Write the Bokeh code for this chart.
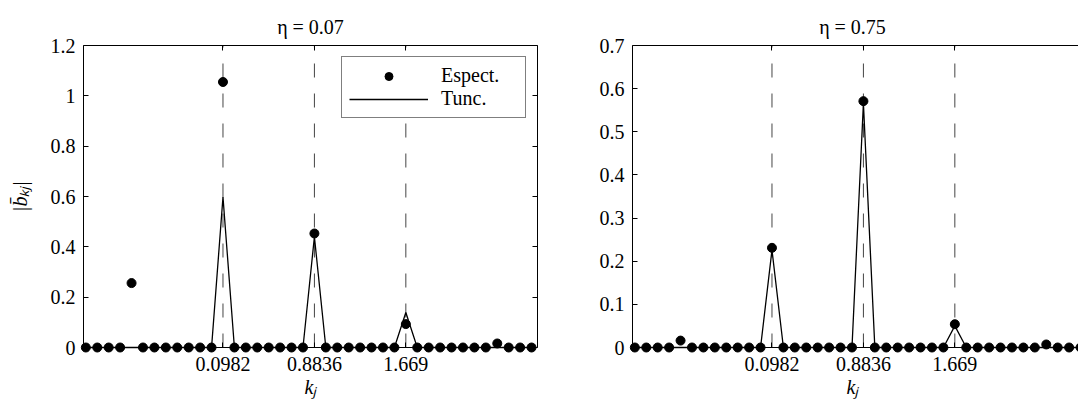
from bokeh.plotting import figure
from bokeh.models import (Range1d, LinearAxis, FixedTicker, PrintfTickFormatter,
                          Legend, LegendItem)
from bokeh.layouts import row
from bokeh.embed import file_html
from bokeh.resources import INLINE

# Wavenumbers k_j (step pi/32)
k_values = [
    -1.0799, -0.9817, -0.8836, -0.7854, -0.6872, -0.5890, -0.4909, -0.3927, -0.2945, -0.1963,
    -0.0982, 0.0000, 0.0982, 0.1963, 0.2945, 0.3927, 0.4909, 0.5890, 0.6872, 0.7854,
    0.8836, 0.9817, 1.0799, 1.1781, 1.2763, 1.3744, 1.4726, 1.5708, 1.6690, 1.7671,
    1.8653, 1.9635, 2.0617, 2.1598, 2.2580, 2.3562, 2.4544, 2.5525, 2.6507, 2.7489,
]

# eta = 0.07
espect_eta007 = [
    0, 0, 0, 0, 0.256, 0, 0, 0, 0, 0,
    0, 0, 1.055, 0, 0, 0, 0, 0, 0, 0,
    0.453, 0, 0, 0, 0, 0, 0, 0, 0.093, 0,
    0, 0, 0, 0, 0, 0, 0.016, 0, 0, 0,
]
tunc_eta007 = [
    0, 0, 0, 0, 0, 0, 0, 0, 0, 0,
    0, 0, 0.598, 0, 0, 0, 0, 0, 0, 0,
    0.440, 0, 0, 0, 0, 0, 0, 0, 0.139, 0,
    0, 0, 0, 0, 0, 0, 0, 0, 0, 0,
]

# eta = 0.75
espect_eta075 = [
    0, 0, 0, 0, 0.016, 0, 0, 0, 0, 0,
    0, 0, 0.231, 0, 0, 0, 0, 0, 0, 0,
    0.571, 0, 0, 0, 0, 0, 0, 0, 0.054, 0,
    0, 0, 0, 0, 0, 0, 0.007, 0, 0, 0,
]
tunc_eta075 = [
    0, 0, 0, 0, 0, 0, 0, 0, 0, 0,
    0, 0, 0.226, 0, 0, 0, 0, 0, 0, 0,
    0.566, 0, 0, 0, 0, 0, 0, 0, 0.050, 0,
    0, 0, 0, 0, 0, 0, 0, 0, 0, 0,
]

k_ticks = [0.0982, 0.8836, 1.669]
y_ticks_007 = [0, 0.2, 0.4, 0.6, 0.8, 1, 1.2]
y_ticks_075 = [0, 0.1, 0.2, 0.3, 0.4, 0.5, 0.6, 0.7]

titles = ["η = 0.07", "η = 0.75"]
x_label = "kⱼ"
y_label = "|b̄ₖⱼ|"

FONT = "'Liberation Serif', serif"
FS = "20px"

# axis box geometry
K_MIN, K_MAX = -1.1, 2.8
PX_PER_K = 454 / (K_MAX - K_MIN)
BOX_H = 302
PAD = 6          # frame extends a little past the box so markers are not clipped
H = 405


def line_axis(ax):
    """Axis that only draws its line and inward ticks."""
    ax.axis_line_color = "black"
    ax.axis_line_width = 1
    ax.major_tick_line_color = "black"
    ax.major_tick_in = 5
    ax.major_tick_out = 0
    ax.minor_tick_line_color = None
    ax.major_label_text_color = None
    ax.major_label_standoff = 0
    return ax


def label_axis(ax):
    """Axis on the frame edge that only draws the tick labels and axis title."""
    ax.axis_line_color = None
    ax.major_tick_line_color = None
    ax.minor_tick_line_color = None
    ax.major_tick_in = 0
    ax.major_tick_out = 0
    ax.major_label_text_font = FONT
    ax.major_label_text_font_size = FS
    ax.major_label_text_color = "black"
    ax.axis_label_text_font = FONT
    ax.axis_label_text_font_size = FS
    ax.axis_label_text_font_style = "italic"
    ax.axis_label_text_color = "black"
    return ax


def panel(title, espect, tunc, y_top, y_ticks, width, left, right_box, with_legend, y_title):
    y_pad = PAD * y_top / BOX_H
    x_start = K_MIN - PAD / PX_PER_K
    if right_box:
        frame_w = 454 + 2 * PAD
        x_end = K_MAX + PAD / PX_PER_K
        min_right = width - left - frame_w
    else:
        frame_w = width - left
        x_end = x_start + frame_w / PX_PER_K
        min_right = 0

    p = figure(width=width, height=H, output_backend="svg", toolbar_location=None,
               x_range=Range1d(x_start, x_end), y_range=Range1d(-y_pad, y_top + y_pad),
               x_axis_location=None, y_axis_location=None,
               min_border_left=left, min_border_right=min_right,
               min_border_top=39, min_border_bottom=H - 39 - (BOX_H + 2 * PAD))
    p.outline_line_color = None
    p.grid.visible = False
    p.background_fill_color = "white"
    p.border_fill_color = "white"

    p.title.text = title
    p.title.align = "center"
    p.title.text_font = FONT
    p.title.text_font_size = FS
    p.title.text_font_style = "normal"
    p.title.text_color = "black"
    p.title.standoff = 3

    # box lines with inward ticks
    p.add_layout(line_axis(LinearAxis(ticker=FixedTicker(ticks=k_ticks), fixed_location=0,
                                      bounds=(K_MIN, K_MAX))), "below")
    p.add_layout(line_axis(LinearAxis(ticker=FixedTicker(ticks=k_ticks), fixed_location=y_top,
                                      bounds=(K_MIN, K_MAX))), "above")
    p.add_layout(line_axis(LinearAxis(ticker=FixedTicker(ticks=y_ticks), fixed_location=K_MIN,
                                      bounds=(0, y_top))), "left")
    if right_box:
        p.add_layout(line_axis(LinearAxis(ticker=FixedTicker(ticks=y_ticks), fixed_location=K_MAX,
                                          bounds=(0, y_top))), "right")

    # tick labels and axis titles
    xl = label_axis(LinearAxis(ticker=FixedTicker(ticks=k_ticks),
                               formatter=PrintfTickFormatter(format="%.4g"),
                               axis_label=x_label, major_label_standoff=3, axis_label_standoff=2))
    p.add_layout(xl, "below")
    yl = label_axis(LinearAxis(ticker=FixedTicker(ticks=y_ticks),
                               formatter=PrintfTickFormatter(format="%g"),
                               axis_label=y_title, major_label_standoff=2, axis_label_standoff=17))
    p.add_layout(yl, "left")

    # dashed guides at the labelled wavenumbers
    p.segment(x0=k_ticks, y0=[0] * len(k_ticks), x1=k_ticks, y1=[y_top] * len(k_ticks),
              line_color="#444444", line_width=1, line_dash="14 16")

    ln = p.line(k_values, tunc, line_color="black", line_width=1.3)
    dots = p.scatter(k_values, espect, size=9, fill_color="black", line_color="black")

    if with_legend:
        leg = Legend(items=[LegendItem(label="Espect.", renderers=[dots]),
                            LegendItem(label="Tunc.", renderers=[ln])],
                     location=(264, 235))
        leg.border_line_color = "black"
        leg.border_line_width = 1
        leg.background_fill_color = "white"
        leg.background_fill_alpha = 1
        leg.padding = 7
        leg.spacing = 0
        leg.margin = 0
        leg.glyph_width = 79
        leg.glyph_height = 20
        leg.label_height = 20
        leg.label_standoff = 13
        leg.label_width = 77
        leg.label_text_font = FONT
        leg.label_text_font_size = FS
        leg.label_text_color = "black"
        p.add_layout(leg, "center")
    return p


p1 = panel(titles[0], espect_eta007, tunc_eta007, 1.2, y_ticks_007, 580, 77, True, True, y_label)
p2 = panel(titles[1], espect_eta075, tunc_eta075, 0.7, y_ticks_075, 498, 46, False, False, "")

layout = row(p1, p2)
open("out.html", "w").write(file_html(layout, INLINE))
